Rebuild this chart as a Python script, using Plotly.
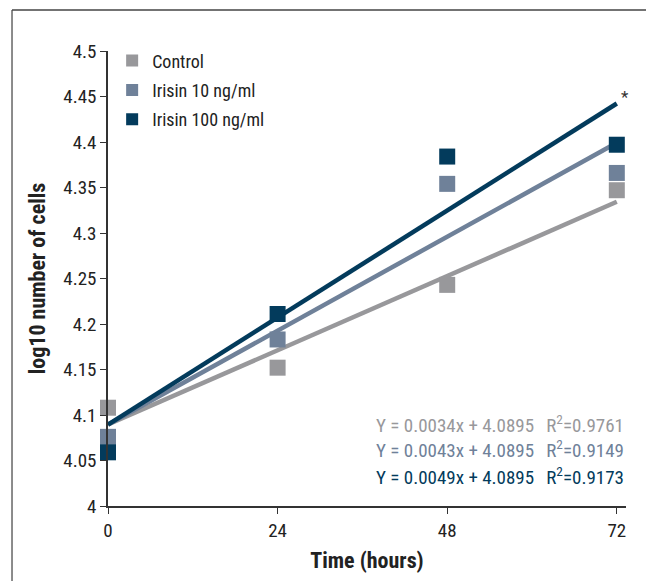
import plotly.graph_objects as go

# Data
hours = [0, 24, 48, 72]
series_names = ["Control", "Irisin 10 ng/ml", "Irisin 100 ng/ml"]
control = [4.108, 4.152, 4.243, 4.347]
irisin10 = [4.076, 4.183, 4.354, 4.366]
irisin100 = [4.059, 4.211, 4.384, 4.397]
slopes = [0.0034, 0.0043, 0.0049]
intercept = 4.0895
r2 = ["0.9761", "0.9149", "0.9173"]
colors = ["#98989b", "#6f8199", "#033b5c"]
x_ticks = [0, 24, 48, 72]
y_ticks = [4, 4.05, 4.1, 4.15, 4.2, 4.25, 4.3, 4.35, 4.4, 4.45, 4.5]
y_tick_text = ["4", "4.05", "4.1", "4.15", "4.2", "4.25", "4.3", "4.35", "4.4", "4.45", "4.5"]

FONT = "Liberation Sans Narrow, Roboto Condensed, Arial Narrow, sans-serif"

fig = go.Figure()
all_vals = [control, irisin10, irisin100]

# fit lines
for i, name in enumerate(series_names):
    xs = [hours[0], hours[-1]]
    ys = [intercept + slopes[i] * x for x in xs]
    fig.add_trace(go.Scatter(x=xs, y=ys, mode="lines", showlegend=False,
                             line=dict(color=colors[i], width=4.5), hoverinfo="skip",
                             cliponaxis=False))

# markers
for i, name in enumerate(series_names):
    fig.add_trace(go.Scatter(x=hours, y=all_vals[i], mode="markers", name=name,
                             legendgroup=name,
                             marker=dict(symbol="square", size=16, color=colors[i]),
                             cliponaxis=False))

# equations
eq_y = [4.0897, 4.0617, 4.0327]
for i in range(3):
    fig.add_annotation(
        x=1.0, xref="paper", y=eq_y[i], yref="y", xanchor="right", yanchor="middle",
        text=f"Y = {slopes[i]:.4f}x + {intercept:.4f}\u2002\u2009R<sup>2</sup>=" + r2[i],
        showarrow=False, font=dict(family=FONT, size=19, color=colors[i]))

# asterisk
fig.add_annotation(x=72, y=intercept + slopes[2] * 72, text="*", showarrow=False,
                   xshift=8, yshift=7, font=dict(family=FONT, size=17, color="#333333"))

# frame lines
fig.add_shape(type="line", xref="paper", yref="paper", x0=-0.1853, x1=-0.1853, y0=-0.2, y1=1.0901,
              line=dict(color="#666666", width=1.5))
fig.add_shape(type="line", xref="paper", yref="paper", x0=-0.1853, x1=1.0386, y0=1.0901, y1=1.0901,
              line=dict(color="#444444", width=1.5))

fig.update_layout(
    width=646, height=581,
    margin=dict(l=108, r=20, t=51, b=75),
    paper_bgcolor="white", plot_bgcolor="white",
    font=dict(family=FONT, size=19, color="#222222"),
    showlegend=True,
    legend=dict(x=0.008, y=1.019, xanchor="left", yanchor="top", bgcolor="rgba(0,0,0,0)",
                font=dict(family=FONT, size=18, color="#222222"), tracegroupgap=3,
                itemsizing="constant"),
    xaxis=dict(range=[0, 73.3], tickvals=x_ticks, ticks="outside", ticklen=6,
               showline=True, linecolor="#333333", linewidth=1.5, tickcolor="#333333",
               showgrid=False, zeroline=False, tickfont=dict(size=19),
               title=dict(text="<b>Time (hours)</b>", font=dict(family=FONT, size=22), standoff=12)),
    yaxis=dict(range=[4, 4.5], tickvals=y_ticks, ticktext=y_tick_text, ticks="outside", ticklen=6,
               showline=True, linecolor="#333333", linewidth=1.5, tickcolor="#333333",
               showgrid=False, zeroline=False, tickfont=dict(size=19),
               title=dict(text="<b>log10 number of cells</b>", font=dict(family=FONT, size=22), standoff=12)),
)

fig.write_html("out.html", config={"displayModeBar": False},
               post_script="document.body.style.margin='0';document.body.style.overflow='hidden';")
